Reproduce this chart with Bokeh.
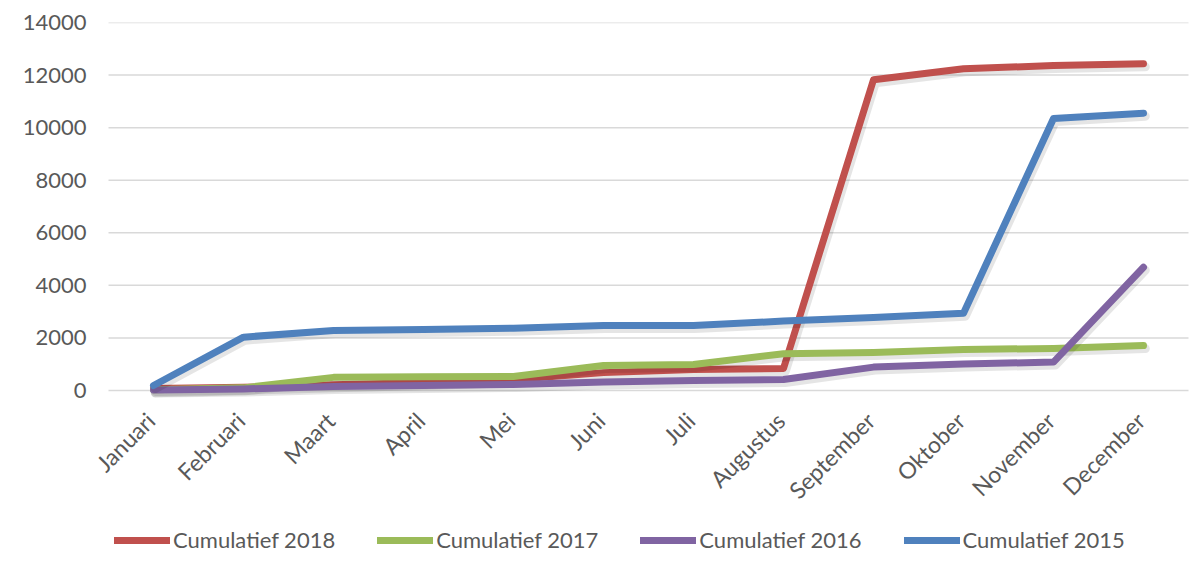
from bokeh.plotting import figure
from bokeh.models import Legend, LegendItem, FixedTicker, Range1d
from bokeh.transform import dodge
from bokeh.core.properties import value
from bokeh.embed import file_html
from bokeh.resources import INLINE
import math

months = ["Januari", "Februari", "Maart", "April", "Mei", "Juni", "Juli",
          "Augustus", "September", "Oktober", "November", "December"]
cum_2018 = [80, 120, 220, 300, 420, 680, 800, 840, 11820, 12240, 12360, 12430]
cum_2017 = [30, 100, 500, 520, 530, 950, 990, 1400, 1450, 1560, 1600, 1710]
cum_2016 = [20, 60, 150, 190, 230, 320, 380, 420, 890, 1010, 1080, 4690]
cum_2015 = [190, 2030, 2280, 2320, 2370, 2470, 2470, 2640, 2780, 2940, 10350, 10550]
y_ticks = [0, 2000, 4000, 6000, 8000, 10000, 12000, 14000]
y_max = 14000

series = [
    ("Cumulatief 2018", cum_2018, "#C0504D"),
    ("Cumulatief 2017", cum_2017, "#9BBB59"),
    ("Cumulatief 2016", cum_2016, "#8064A2"),
    ("Cumulatief 2015", cum_2015, "#4F81BD"),
]

FONT = "Lato"
TXT = "#595959"

# category positions (one slot per month)
xs = list(range(len(months)))
first_edge, last_edge = -0.5, len(months) - 0.5

# layout in pixels
PX_CAT = 90          # width of one month slot
PX_LEFT_EXTRA = 20   # room left of the first slot for the rotated first label
PX_RIGHT_EXTRA = 4
PX_VALUES = 368      # height of the 0..14000 band
PX_BELOW = 179       # rotated labels + legend band under the zero line
x_start = first_edge - PX_LEFT_EXTRA / PX_CAT
x_end = last_edge + PX_RIGHT_EXTRA / PX_CAT
y_start = -PX_BELOW * y_max / PX_VALUES
shadow_shift = 3 * y_max / PX_VALUES

frame_w = int(round((x_end - x_start) * PX_CAT))

p = figure(width=1192, height=577, output_backend="svg", toolbar_location=None,
           x_range=Range1d(x_start, x_end), y_range=Range1d(y_start, y_max),
           min_border_left=88, min_border_right=0, min_border_top=22, min_border_bottom=8,
           frame_width=frame_w, frame_height=PX_VALUES + PX_BELOW)
p.outline_line_color = None
p.background_fill_color = "white"
p.border_fill_color = "white"
p.extra_y_ranges = {"shadow": Range1d(y_start + shadow_shift, y_max + shadow_shift)}

p.xaxis.visible = False
p.xgrid.visible = False
p.ygrid.visible = False
p.yaxis.ticker = FixedTicker(ticks=y_ticks)

ax = p.yaxis[0]
ax.axis_line_color = None
ax.major_tick_line_color = None
ax.minor_tick_line_color = None
ax.major_tick_out = 0
ax.major_tick_in = 0
ax.major_label_text_font = FONT
ax.major_label_text_color = TXT
ax.major_label_text_font_size = "22px"
ax.major_label_standoff = 2

# horizontal gridlines across the category area only
p.segment(x0=first_edge, x1=last_edge, y0=y_ticks, y1=y_ticks,
          line_color="#d9d9d9", line_width=1.5)

# category labels, rotated 45 degrees under the zero line
p.text(x=xs, y=0, text=months, angle=math.pi / 4,
       text_align="right", text_baseline="middle", x_offset=-3, y_offset=26,
       text_font=value(FONT), text_font_size="23px", text_color=TXT)

items = []
for name, vals, color in series:
    src = {"x": xs, "v": vals}
    p.line(dodge("x", 0.02), "v", source=src, y_range_name="shadow",
           line_color="black", line_alpha=0.10, line_width=9,
           line_cap="round", line_join="round")
    r = p.line("x", "v", source=src, line_color=color, line_width=7,
               line_cap="round", line_join="round")
    items.append(LegendItem(label=name, renderers=[r]))

legend = Legend(items=items, orientation="horizontal", location=(26, 16),
                margin=0, padding=0, spacing=42, glyph_width=56, glyph_height=20,
                label_height=20, label_standoff=3,
                label_text_font=FONT, label_text_font_size="22px",
                label_text_color=TXT, border_line_color=None,
                background_fill_alpha=0)
p.add_layout(legend, "center")

open("out.html", "w").write(file_html(p, INLINE))
